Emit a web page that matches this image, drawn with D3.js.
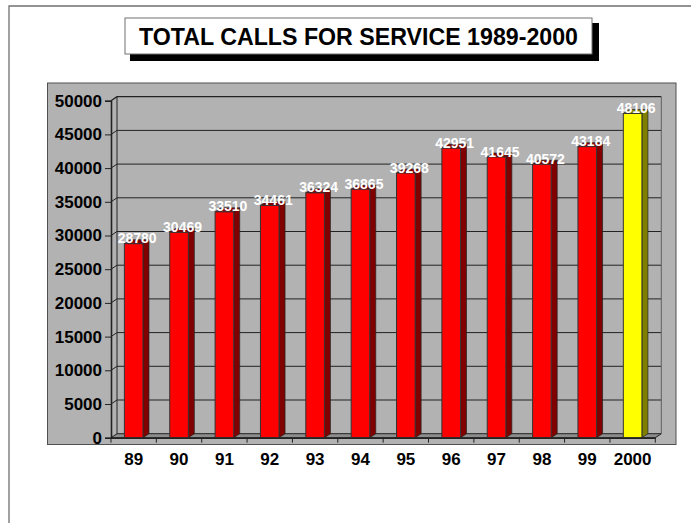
<!DOCTYPE html>
<html>
<head>
<meta charset="utf-8">
<script src="https://cdn.jsdelivr.net/npm/d3@7"></script>
<style>
  body { margin: 0; background: #fff; }
  text { font-family: "Liberation Sans", Arial, sans-serif; }
</style>
</head>
<body>
<div id="chart"></div>
<script>
var categories = ["89", "90", "91", "92", "93", "94", "95", "96", "97", "98", "99", "2000"];
var calls = [28780, 30469, 33510, 34461, 36324, 36865, 39268, 42951, 41645, 40572, 43184, 48106];
var barColors = ["#ff0000", "#ff0000", "#ff0000", "#ff0000", "#ff0000", "#ff0000", "#ff0000", "#ff0000", "#ff0000", "#ff0000", "#ff0000", "#ffff00"];
var sideColors = ["#800000", "#800000", "#800000", "#800000", "#800000", "#800000", "#800000", "#800000", "#800000", "#800000", "#800000", "#808000"];
var yTicks = [0, 5000, 10000, 15000, 20000, 25000, 30000, 35000, 40000, 45000, 50000];
var title = "TOTAL CALLS FOR SERVICE 1989-2000";

var width = 691;
var height = 523;

// depth of the fake 3d box
var dx = 6;
var dy = 4;

var svg = d3.select("#chart").append("svg")
  .attr("width", width)
  .attr("height", height)
  .style("display", "block");

var x = d3.scaleBand()
  .domain(categories)
  .range([111, 655.3])
  .paddingInner(0.59)
  .paddingOuter(0.295);

var y = d3.scaleLinear()
  .domain([0, 50000])
  .range([437.7, 100.7]);

// outer frame, runs off the right and bottom of the page
svg.append("path")
  .attr("d", "M9,523V6H691")
  .attr("fill", "none")
  .attr("stroke", "#707070")
  .attr("stroke-width", 1.3);

// title box with its shadow
svg.append("rect")
  .attr("x", 130).attr("y", 23).attr("width", 469).attr("height", 38)
  .attr("fill", "#000");
svg.append("rect")
  .attr("x", 125).attr("y", 18).attr("width", 467).attr("height", 36)
  .attr("fill", "#fff")
  .attr("stroke", "#707070")
  .attr("stroke-width", 1);
svg.append("text")
  .attr("x", 358.5).attr("y", 44.5)
  .attr("text-anchor", "middle")
  .style("font-size", "23.2px")
  .style("font-weight", "bold")
  .text(title);

// plot background
svg.append("rect")
  .attr("x", 47.5).attr("y", 83).attr("width", 628.5).attr("height", 361.5)
  .attr("fill", "#b2b2b2")
  .attr("stroke", "#505050")
  .attr("stroke-width", 1);

var left = x.range()[0];
var right = x.range()[1];
var y0 = y(0);

// floor
svg.append("polygon")
  .attr("points", [[left, y0], [left + dx, y0 - dy], [right + dx, y0 - dy], [right, y0]].join(" "))
  .attr("fill", "#8c8c8c")
  .attr("stroke", "#222")
  .attr("stroke-width", 1);

// back wall gridlines and the diagonals on the left wall
var grid = svg.append("g").attr("fill", "none").attr("stroke", "#222");
grid.selectAll(".grid")
  .data(yTicks.filter(function(d) { return d > 0; }))
  .enter()
  .append("path")
  .attr("class", "grid")
  .attr("d", function(d) {
    return "M" + left + "," + y(d) + "L" + (left + dx) + "," + (y(d) - dy) + "H" + (right + dx);
  })
  .attr("stroke-width", function(d) { return d === 50000 ? 1.3 : 1; });

// back wall edges
svg.append("path")
  .attr("d", "M" + (left + dx) + "," + (y(50000) - dy) + "V" + (y0 - dy))
  .attr("stroke", "#222")
  .attr("fill", "none");
svg.append("path")
  .attr("d", "M" + (right + dx) + "," + (y(50000) - dy) + "V" + (y0 - dy))
  .attr("stroke", "#606060")
  .attr("fill", "none");

// bars
var bars = svg.selectAll(".bar")
  .data(calls)
  .enter()
  .append("g")
  .attr("class", "bar");

bars.append("polygon")
  .attr("points", function(d, i) {
    var r = x(categories[i]) + x.bandwidth();
    return [[r, y(d)], [r + dx, y(d) - dy], [r + dx, y0 - dy], [r, y0]].join(" ");
  })
  .attr("fill", function(d, i) { return sideColors[i]; })
  .attr("stroke", "#222")
  .attr("stroke-width", 0.7);

bars.append("polygon")
  .attr("points", function(d, i) {
    var l = x(categories[i]);
    var r = l + x.bandwidth();
    return [[l, y(d)], [l + dx, y(d) - dy], [r + dx, y(d) - dy], [r, y(d)]].join(" ");
  })
  .attr("fill", function(d, i) { return sideColors[i]; })
  .attr("stroke", "#222")
  .attr("stroke-width", 0.7);

bars.append("rect")
  .attr("x", function(d, i) { return x(categories[i]); })
  .attr("y", function(d) { return y(d); })
  .attr("width", x.bandwidth())
  .attr("height", function(d) { return y0 - y(d); })
  .attr("fill", function(d, i) { return barColors[i]; })
  .attr("stroke", "#333")
  .attr("stroke-width", 1);

// y axis
var yAxis = svg.append("g")
  .attr("transform", "translate(" + left + ",0)")
  .call(d3.axisLeft(y).tickValues(yTicks).tickFormat(d3.format("d")).tickSize(6).tickPadding(3));
yAxis.select(".domain").attr("stroke", "#222").attr("stroke-width", 1.6);
yAxis.selectAll(".tick line").attr("stroke", "#222");
yAxis.selectAll("text")
  .attr("fill", "#000")
  .style("font-family", '"Liberation Sans", Arial, sans-serif')
  .style("font-size", "17px")
  .style("font-weight", "bold");

// x axis, ticks sit on the band edges so they are drawn apart
var xAxis = svg.append("g")
  .attr("transform", "translate(0," + y0 + ")")
  .call(d3.axisBottom(x).tickSize(0).tickPadding(15));
xAxis.select(".domain").attr("stroke", "#222").attr("stroke-width", 1.4);
xAxis.selectAll("text")
  .attr("fill", "#000")
  .style("font-family", '"Liberation Sans", Arial, sans-serif')
  .style("font-size", "17px")
  .style("font-weight", "bold");

svg.append("g").selectAll("line")
  .data(d3.range(categories.length + 1))
  .enter()
  .append("line")
  .attr("x1", function(i) { return left + i * x.step(); })
  .attr("x2", function(i) { return left + i * x.step(); })
  .attr("y1", y0)
  .attr("y2", y0 + 5)
  .attr("stroke", "#222");

// value labels
svg.selectAll(".value")
  .data(calls)
  .enter()
  .append("text")
  .attr("class", "value")
  .attr("x", function(d, i) { return x(categories[i]) + x.bandwidth() / 2 + 3.5; })
  .attr("y", function(d) { return y(d) - 0.5; })
  .attr("text-anchor", "middle")
  .attr("fill", "#fff")
  .style("font-size", "14px")
  .style("font-weight", "bold")
  .text(function(d) { return d; });
</script>
</body>
</html>
